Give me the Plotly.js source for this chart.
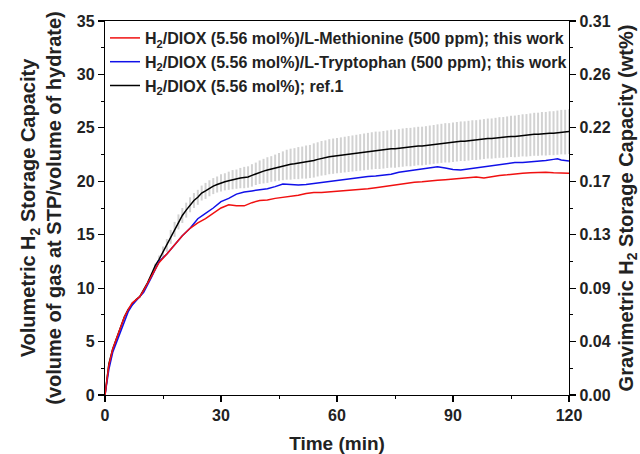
<!DOCTYPE html>
<html>
<head>
<meta charset="utf-8">
<script src="https://cdn.plot.ly/plotly-3.0.1.min.js"></script>
<style>html,body{margin:0;padding:0;background:#fff;}#chart{width:640px;height:454px;}</style>
</head>
<body>
<div id="chart"></div>
<script>
// Black series (ref.1), 1-minute resolution with error bars
const timeRef = [];
for (let i = 0; i <= 120; i++) timeRef.push(i);
const capRef = [0,2.9,4.3,5.3,6.3,7.3,8.0,8.5,8.9,9.2,
  9.8,10.5,11.3,12.1,12.7,13.4,14.0,14.8,15.5,16.2,
  16.8,17.3,17.8,18.2,18.5,18.9,19.1,19.35,19.55,19.7,
  19.85,19.95,20.05,20.15,20.2,20.3,20.35,20.4,20.55,20.7,
  20.85,20.95,21.05,21.15,21.25,21.35,21.45,21.55,21.6,21.65,
  21.7,21.75,21.8,21.85,21.95,22.05,22.15,22.2,22.3,22.35,
  22.4,22.45,22.5,22.55,22.6,22.65,22.7,22.75,22.8,22.85,
  22.9,22.9,22.95,23.0,23.05,23.05,23.1,23.15,23.2,23.2,
  23.25,23.3,23.3,23.35,23.4,23.45,23.5,23.55,23.6,23.6,
  23.65,23.7,23.75,23.75,23.8,23.85,23.85,23.9,23.95,24.0,
  24.0,24.05,24.1,24.1,24.15,24.2,24.2,24.25,24.3,24.3,
  24.35,24.4,24.4,24.45,24.45,24.5,24.5,24.55,24.6,24.6,24.65];
const errRef = [0,0,0,0,0,0,0,0,0,0,
  0,0,0,0.2,0.35,0.5,0.6,0.65,0.7,0.7,
  0.7,0.7,0.7,0.7,0.7,0.7,0.75,0.75,0.75,0.75,
  0.8,0.8,0.85,0.9,0.9,0.95,1.0,1.0,1.05,1.05,
  1.1,1.15,1.2,1.2,1.25,1.3,1.35,1.4,1.45,1.45,
  1.5,1.5,1.55,1.55,1.6,1.6,1.62,1.63,1.64,1.65,
  1.65,1.66,1.67,1.68,1.69,1.7,1.71,1.72,1.73,1.74,
  1.75,1.75,1.76,1.76,1.77,1.78,1.78,1.79,1.79,1.8,
  1.8,1.8,1.81,1.81,1.82,1.82,1.83,1.83,1.84,1.84,
  1.85,1.85,1.85,1.86,1.86,1.86,1.87,1.87,1.87,1.87,
  1.88,1.89,1.9,1.91,1.92,1.93,1.95,1.96,1.97,1.99,
  2.0,2.01,2.02,2.03,2.04,2.05,2.06,2.07,2.08,2.09,2.1];

const timeWork = [0,1,2,3,4,5,6,7,8,9,10,12,14,16,18,20,22,24,26,28,30,32,34,36,38,40,42,44,46,48,50,52,54,56,58,60,62,64,66,68,70,72,74,76,78,80,82,84,86,88,90,92,94,96,98,100,102,104,106,108,110,112,114,116,117,118,120];
const capMet = [0,2.8,4.3,5.3,6.3,7.3,8.0,8.6,8.9,9.2,9.8,11.1,12.4,13.2,14.1,14.9,15.6,16.1,16.5,17.0,17.5,17.8,17.7,17.7,18.0,18.2,18.25,18.4,18.5,18.55,18.7,18.85,18.95,18.95,19.0,19.05,19.1,19.2,19.25,19.3,19.4,19.5,19.6,19.75,19.85,19.9,19.95,20.05,20.1,20.15,20.2,20.25,20.3,20.4,20.3,20.45,20.55,20.6,20.7,20.75,20.8,20.85,20.85,20.8,20.8,20.78,20.75];
const capTrp = [0,2.4,4.0,5.0,6.0,7.0,7.8,8.4,8.8,9.1,9.6,11.0,12.5,13.2,14.1,14.9,15.6,16.5,17.0,17.5,18.1,18.4,18.8,19.0,19.1,19.2,19.3,19.5,19.75,19.7,19.65,19.7,19.8,19.9,20.0,20.1,20.2,20.3,20.4,20.45,20.5,20.55,20.65,20.85,20.95,21.0,21.1,21.25,21.35,21.25,21.1,21.05,21.15,21.25,21.3,21.4,21.5,21.6,21.75,21.75,21.8,21.85,21.95,22.05,22.1,22.0,21.9];

const xTicks = [0,30,60,90,120];
const yTicks = [0,5,10,15,20,25,30,35];
const y2TickText = ['0.00','0.04','0.09','0.13','0.17','0.22','0.26','0.31'];

const names = [
  'H<sub>2</sub>/DIOX (5.56 mol%)/L-Methionine (500 ppm); this work',
  'H<sub>2</sub>/DIOX (5.56 mol%)/L-Tryptophan (500 ppm); this work',
  'H<sub>2</sub>/DIOX (5.56 mol%); ref.1'
];

const FONT = 'Arial, "Liberation Sans", sans-serif';

const data = [
  {x: timeRef, y: capRef, type: 'scatter', mode: 'lines', name: names[2], legendrank: 3,
   line: {color: '#000000', width: 1.5},
   error_y: {type: 'data', array: errRef, visible: true, color: '#d2d2d2', thickness: 2, width: 0}},
  {x: timeWork, y: capTrp, type: 'scatter', mode: 'lines', name: names[1], legendrank: 2,
   line: {color: '#1010e8', width: 1.5}},
  {x: timeWork, y: capMet, type: 'scatter', mode: 'lines', name: names[0], legendrank: 1,
   line: {color: '#f01010', width: 1.5}},
  {x: [0], y: [0], yaxis: 'y2', type: 'scatter', mode: 'markers', showlegend: false,
   marker: {opacity: 0}, hoverinfo: 'skip'}
];

const axisCommon = {
  showline: true, linecolor: '#000', linewidth: 1.2,
  ticks: 'outside', ticklen: 6, tickwidth: 1.2, tickcolor: '#000',
  showgrid: false, zeroline: false,
  tickfont: {family: FONT, size: 16, color: '#222', weight: 'bold'}
};

const layout = {
  width: 640, height: 454,
  margin: {l: 105, r: 71, t: 21, b: 59},
  paper_bgcolor: '#fff', plot_bgcolor: '#fff',
  showlegend: true,
  legend: {x: 0.0, y: 1.0, xanchor: 'left', yanchor: 'top', bgcolor: 'rgba(0,0,0,0)',
    font: {family: FONT, size: 16, color: '#222', weight: 'bold'}, tracegroupgap: 0, itemwidth: 30},
  xaxis: Object.assign({}, axisCommon, {
    range: [0, 120], tickvals: xTicks, mirror: true,
    minor: {dtick: 15, ticks: 'outside', ticklen: 3, tickwidth: 1, tickcolor: '#000'},
    title: {text: 'Time (min)', standoff: 15, font: {family: FONT, size: 19, color: '#222', weight: 'bold'}}
  }),
  yaxis: Object.assign({}, axisCommon, {
    range: [0, 35], tickvals: yTicks,
    minor: {dtick: 2.5, ticks: 'outside', ticklen: 3, tickwidth: 1, tickcolor: '#000'},
    title: {text: 'Volumetric H<sub>2</sub> Storage Capacity<br>(volume of gas at STP/volume of hydrate)', standoff: 9,
      font: {family: FONT, size: 20, color: '#222', weight: 'bold'}}
  }),
  yaxis2: Object.assign({}, axisCommon, {
    overlaying: 'y', side: 'right', range: [0, 35], tickvals: yTicks, ticktext: y2TickText,
    minor: {dtick: 2.5, ticks: 'outside', ticklen: 3, tickwidth: 1, tickcolor: '#000'},
    title: {text: 'Gravimetric H<sub>2</sub> Storage Capacity (wt%)', standoff: 11,
      font: {family: FONT, size: 20, color: '#222', weight: 'bold'}}
  })
};

Plotly.newPlot('chart', data, layout, {displayModeBar: false, staticPlot: true});
</script>
</body>
</html>
